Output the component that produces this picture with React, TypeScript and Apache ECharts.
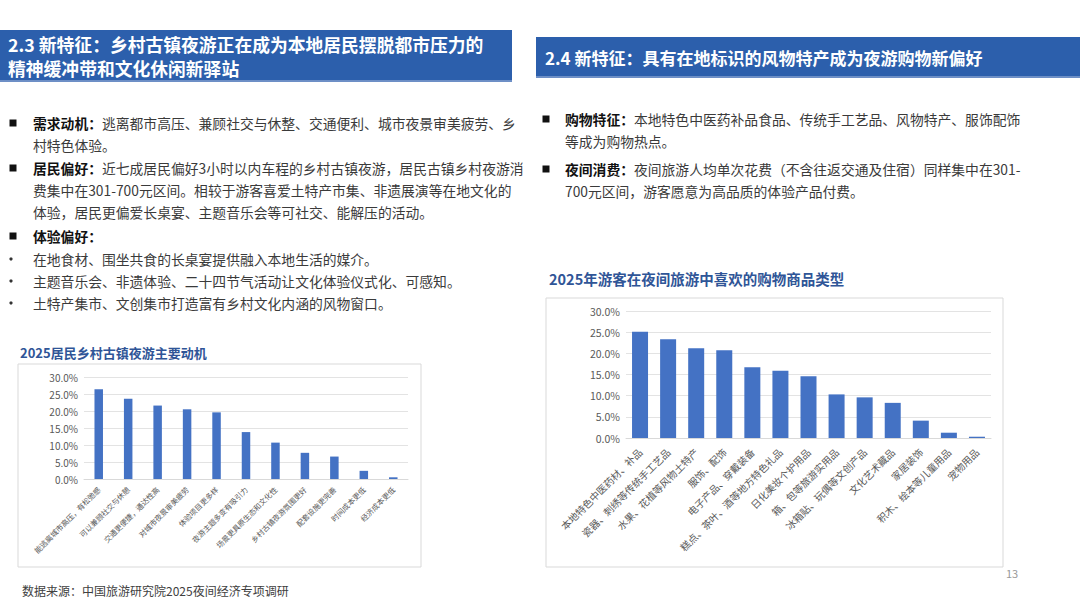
import React, { useEffect, useRef } from "react";
import * as echarts from "echarts";

const FONT = "'Noto Sans CJK SC', 'Noto Sans', sans-serif";

const leftCats = [
  "能逃离城市高压，有松弛感",
  "可以兼顾社交与休憩",
  "交通更便捷，通达性高",
  "对城市夜景审美疲劳",
  "体验项目更多样",
  "夜游主题多变有吸引力",
  "场景更具原生态和文化性",
  "乡村古镇夜游氛围更好",
  "配套设施更完善",
  "时间成本更低",
  "经济成本更低",
];
const leftVals = [26.4, 23.6, 21.6, 20.5, 19.6, 13.8, 10.7, 7.7, 6.6, 2.4, 0.5];

const rightCats = [
  "本地特色中医药材、补品",
  "瓷器、刺绣等传统手工艺品",
  "水果、花植等风物土特产",
  "服饰、配饰",
  "电子产品、穿戴装备",
  "糕点、茶叶、酒等地方特色礼品",
  "日化美妆个护用品",
  "箱、包等旅游实用品",
  "冰箱贴、玩偶等文创产品",
  "文化艺术藏品",
  "家居装饰",
  "积木、绘本等儿童用品",
  "宠物用品",
];
const rightVals = [25.1, 23.3, 21.2, 20.7, 16.7, 15.9, 14.6, 10.3, 9.6, 8.3, 4.1, 1.25, 0.3];

const leftHeader = [
  "2.3 新特征：乡村古镇夜游正在成为本地居民摆脱都市压力的",
  "精神缓冲带和文化休闲新驿站",
];
const rightHeader = "2.4 新特征：具有在地标识的风物特产成为夜游购物新偏好";

// [bulletType, boldPart, normalPart, y]
const leftLines: [string, string, string, number][] = [
  ["sq", "需求动机：", "逃离都市高压、兼顾社交与休整、交通便利、城市夜景审美疲劳、乡", 123],
  ["", "", "村特色体验。", 145],
  ["sq", "居民偏好：", "近七成居民偏好3小时以内车程的乡村古镇夜游，居民古镇乡村夜游消", 168],
  ["", "", "费集中在301-700元区间。相较于游客喜爱土特产市集、非遗展演等在地文化的", 190],
  ["", "", "体验，居民更偏爱长桌宴、主题音乐会等可社交、能解压的活动。", 212],
  ["sq", "体验偏好：", "", 236],
  ["dot", "", "在地食材、围坐共食的长桌宴提供融入本地生活的媒介。", 259],
  ["dot", "", "主题音乐会、非遗体验、二十四节气活动让文化体验仪式化、可感知。", 281],
  ["dot", "", "土特产集市、文创集市打造富有乡村文化内涵的风物窗口。", 303],
];
const rightLines: [string, string, string, number][] = [
  ["sq", "购物特征：", "本地特色中医药补品食品、传统手工艺品、风物特产、服饰配饰", 119],
  ["", "", "等成为购物热点。", 141],
  ["sq", "夜间消费：", "夜间旅游人均单次花费（不含往返交通及住宿）同样集中在301-", 169],
  ["", "", "700元区间，游客愿意为高品质的体验产品付费。", 191],
];

const leftTitle = "2025居民乡村古镇夜游主要动机";
const rightTitle = "2025年游客在夜间旅游中喜欢的购物商品类型";
const sourceText = "数据来源：中国旅游研究院2025夜间经济专项调研";
const pageNo = "13";

function buildLines(lines: [string, string, string, number][], bx: number, tx: number) {
  const els: any[] = [];
  lines.forEach(([b, bold, normal, y]) => {
    if (b === "sq") {
      els.push({ type: "rect", shape: { x: bx - 3.5, y: y - 3.5, width: 7, height: 7 }, style: { fill: "#111" } });
    } else if (b === "dot") {
      els.push({ type: "circle", shape: { cx: bx - 2, cy: y, r: 1.6 }, style: { fill: "#333" } });
    }
    let t = "";
    if (bold) t += `{b|${bold}}`;
    if (normal) t += `{n|${normal}}`;
    els.push({
      type: "text",
      x: tx,
      y,
      style: {
        text: t,
        verticalAlign: "middle",
        rich: {
          b: { fontFamily: FONT, fontSize: 13.8, fontWeight: "bold", fill: "#111" },
          n: { fontFamily: FONT, fontSize: 13.8, fill: "#3a3a3a" },
        },
      },
    });
  });
  return els;
}

export default function App() {
  const ref = useRef<HTMLDivElement>(null);
  useEffect(() => {
    if (!ref.current) return;
    const chart = echarts.init(ref.current, undefined, { renderer: "svg" });
    const pct = (v: number) => v.toFixed(1) + "%";
    const graphic: any[] = [
      { type: "rect", shape: { x: 0, y: 30, width: 512, height: 52 }, style: { fill: "#2C5FAC" } },
      { type: "rect", shape: { x: 0, y: 80, width: 512, height: 2 }, style: { fill: "#6d8fc6" } },
      { type: "rect", shape: { x: 536, y: 37, width: 544, height: 41 }, style: { fill: "#2C5FAC" } },
      { type: "rect", shape: { x: 536, y: 76, width: 544, height: 2 }, style: { fill: "#6d8fc6" } },
      ...leftHeader.map((t, i) => ({
        type: "text",
        x: 8,
        y: 44 + i * 24,
        style: { text: t, fontFamily: FONT, fontSize: 17.8, fontWeight: "bold", fill: "#fff", verticalAlign: "middle" },
      })),
      {
        type: "text",
        x: 545,
        y: 57,
        style: { text: rightHeader, fontFamily: FONT, fontSize: 17, fontWeight: "bold", fill: "#fff", verticalAlign: "middle" },
      },
      ...buildLines(leftLines, 13, 33),
      ...buildLines(rightLines, 546, 565),
      {
        type: "text",
        x: 20,
        y: 352,
        style: { text: leftTitle, fontFamily: FONT, fontSize: 13, fontWeight: "bold", fill: "#2F5597", verticalAlign: "middle" },
      },
      {
        type: "text",
        x: 549,
        y: 278,
        style: { text: rightTitle, fontFamily: FONT, fontSize: 14.5, fontWeight: "bold", fill: "#2F5597", verticalAlign: "middle" },
      },
      { type: "rect", shape: { x: 18, y: 364, width: 403, height: 203 }, style: { fill: "none", stroke: "#d9d9d9", lineWidth: 1 } },
      { type: "rect", shape: { x: 546, y: 298, width: 457, height: 269 }, style: { fill: "none", stroke: "#d9d9d9", lineWidth: 1 } },
      {
        type: "text",
        x: 22,
        y: 590,
        style: { text: sourceText, fontFamily: FONT, fontSize: 12, fill: "#404040", verticalAlign: "middle" },
      },
      {
        type: "text",
        x: 1006,
        y: 573,
        style: { text: pageNo, fontFamily: FONT, fontSize: 11, fill: "#999", verticalAlign: "middle" },
      },
    ];
    const yAxisBase = (fs: number) => ({
      type: "value",
      min: 0,
      max: 30,
      interval: 5,
      axisLine: { show: false },
      axisTick: { show: false },
      axisLabel: { formatter: pct, fontFamily: FONT, fontSize: fs, color: "#595959", margin: 6 },
      splitLine: { lineStyle: { color: "#e3e3e3", width: 1 } },
    });
    chart.setOption({
      animation: false,
      backgroundColor: "#fff",
      grid: [
        { left: 84, right: 1080 - 408, top: 377, bottom: 608 - 479, containLabel: false },
        { left: 626, right: 1080 - 991, top: 311, bottom: 608 - 438, containLabel: false },
      ],
      xAxis: [
        {
          type: "category",
          gridIndex: 0,
          data: leftCats,
          axisLine: { lineStyle: { color: "#d9d9d9" } },
          axisTick: { show: false },
          axisLabel: { rotate: 45, interval: 0, fontFamily: FONT, fontSize: 7.5, color: "#595959", margin: 9 },
        },
        {
          type: "category",
          gridIndex: 1,
          data: rightCats,
          axisLine: { lineStyle: { color: "#d9d9d9" } },
          axisTick: { show: false },
          axisLabel: { rotate: 45, interval: 0, fontFamily: FONT, fontSize: 10, color: "#595959", margin: 12 },
        },
      ],
      yAxis: [
        { ...yAxisBase(10), gridIndex: 0 },
        { ...yAxisBase(10.5), gridIndex: 1 },
      ],
      series: [
        { type: "bar", xAxisIndex: 0, yAxisIndex: 0, data: leftVals, barWidth: 8.5, itemStyle: { color: "#4472C4" } },
        { type: "bar", xAxisIndex: 1, yAxisIndex: 1, data: rightVals, barWidth: 16, itemStyle: { color: "#4472C4" } },
      ],
      graphic,
    });
    return () => chart.dispose();
  }, []);
  return (
    <div
      ref={ref}
      style={{ position: "absolute", left: 0, top: 0, width: 1080, height: 608, background: "#fff" }}
    />
  );
}
